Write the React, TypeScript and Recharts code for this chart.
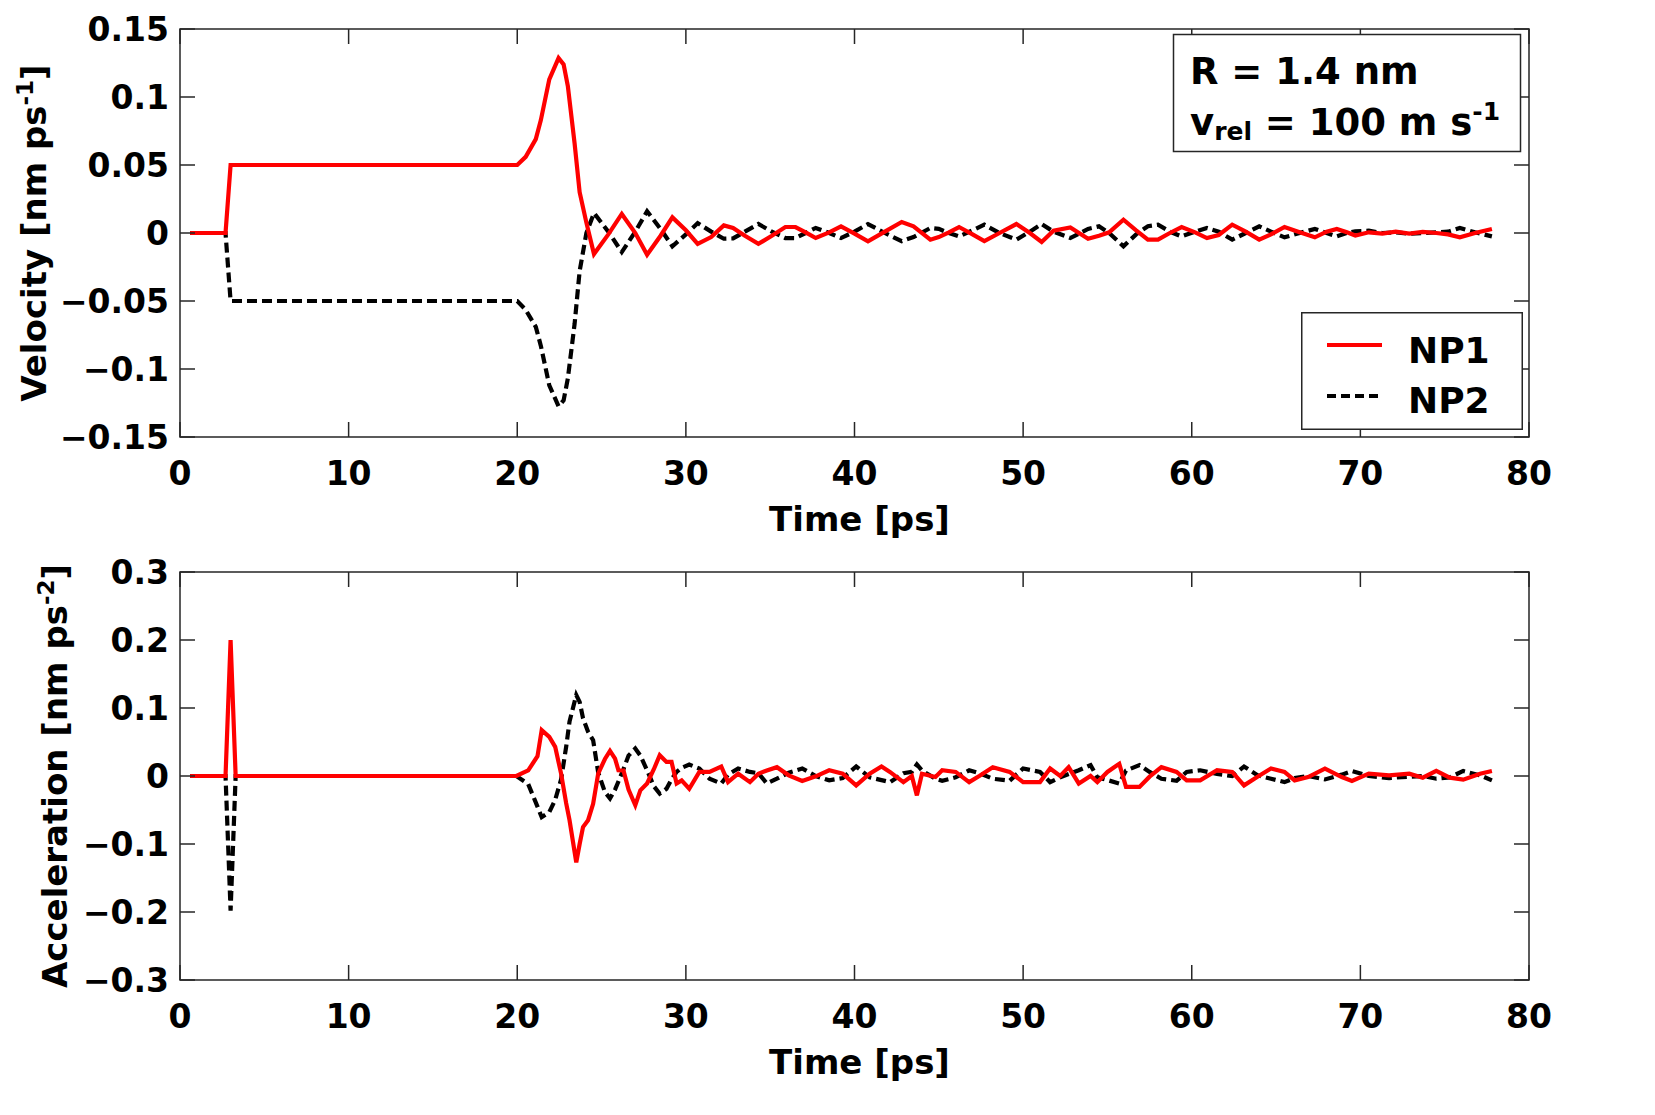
import React from 'react';
import { LineChart, Line, XAxis, YAxis, ReferenceArea, Legend, Label } from 'recharts';

const timeTicks = [0, 10, 20, 30, 40, 50, 60, 70, 80];
const velTicks = [-0.15, -0.1, -0.05, 0, 0.05, 0.1, 0.15];
const accTicks = [-0.3, -0.2, -0.1, 0, 0.1, 0.2, 0.3];

// velocity panel [ps] / [nm ps^-1]
const velTime = [
  0.6, 2.7, 3.0, 20.0, 20.5, 21.1, 21.4, 21.9, 22.45, 22.75,
  23.0, 23.4, 23.7, 24.1, 24.55, 25.4, 26.2, 27.0, 27.7, 28.5,
  29.2, 30.0, 30.7, 31.5, 32.25, 32.8, 33.5, 34.3, 35.1, 35.9,
  36.5, 37.1, 37.7, 38.5, 39.2, 40.0, 40.8, 41.8, 42.8, 43.5,
  44.5, 45.0, 45.6, 46.2, 47.0, 47.7, 48.6, 49.6, 50.4, 51.1,
  51.8, 52.8, 53.85, 54.5, 55.1, 55.95, 56.7, 57.4, 58.0, 58.7,
  59.4, 60.2, 60.9, 61.6, 62.4, 63.2, 64.0, 64.7, 65.5, 66.4,
  67.3, 68.0, 68.6, 69.2, 69.7, 70.5, 71.3, 72.1, 72.9, 73.7,
  74.5, 75.2, 75.9, 76.8, 77.8,
];
const velNP1 = [
  0, 0, 0.05, 0.05, 0.056, 0.069, 0.083, 0.113, 0.1286, 0.124,
  0.108, 0.066, 0.03, 0.0076, -0.0155, -0.001, 0.014, 0.0, -0.016, -0.002,
  0.0115, 0.002, -0.008, -0.003, 0.0056, 0.0037, -0.002, -0.008, -0.002, 0.0044,
  0.0044, 0.0005, -0.0037, 0.0005, 0.0049, -0.0005, -0.0062, 0.001, 0.0081, 0.0049,
  -0.0049, -0.003, 0.0005, 0.0044, -0.001, -0.006, 0.0, 0.0066, 0.0, -0.0066,
  0.0017, 0.0041, -0.0042, -0.002, 0.0005, 0.0098, 0.002, -0.0049, -0.0049, 0.0,
  0.0044, 0.0005, -0.0037, -0.0015, 0.0061, 0.001, -0.0049, -0.001, 0.0044, 0.0005,
  -0.0032, 0.001, 0.003, 0.0005, -0.0018, 0.0005, -0.0005, 0.001, -0.0005, 0.0008,
  0.0, -0.001, -0.0032, 0.0, 0.003,
];
const velNP2 = [
  0, 0, -0.05, -0.05, -0.0565, -0.069, -0.083, -0.112, -0.1274, -0.123,
  -0.107, -0.067, -0.028, 0.0, 0.0147, 0.001, -0.014, 0.001, 0.016, 0.003,
  -0.0098, -0.001, 0.0073, 0.001, -0.0042, -0.004, 0.001, 0.0066, 0.001, -0.0037,
  -0.0037, 0.0, 0.0037, 0.0, -0.0037, 0.001, 0.0066, 0.0, -0.006, -0.003,
  0.0037, 0.003, 0.0, -0.0025, 0.002, 0.0061, 0.0, -0.0049, 0.001, 0.0066,
  0.001, -0.0037, 0.003, 0.0049, 0.0, -0.0098, -0.001, 0.005, 0.0061, 0.001,
  -0.0025, 0.001, 0.0037, 0.001, -0.0049, 0.0, 0.0049, 0.001, -0.0032, 0.0,
  0.003, 0.0, -0.0025, 0.0, 0.0012, 0.0017, 0.0, 0.0005, -0.0005, 0.0,
  0.0005, 0.001, 0.0037, 0.0005, -0.0025,
];

// acceleration panel [ps] / [nm ps^-2]
const accTime = [
  0.6, 2.7, 3.0, 3.3, 19.95, 20.65, 21.2, 21.45, 21.9, 22.25,
  22.6, 22.9, 23.1, 23.5, 23.7, 23.9, 24.2, 24.5, 24.8, 25.2,
  25.5, 25.8, 26.0, 26.3, 26.6, 27.0, 27.3, 27.7, 28.1, 28.45,
  28.85, 29.15, 29.45, 29.75, 30.2, 30.8, 31.4, 32.1, 32.5, 33.1,
  33.8, 34.3, 34.8, 35.4, 36.1, 36.9, 37.7, 38.5, 39.3, 40.1,
  40.9, 41.6, 42.1, 42.9, 43.4, 43.7, 44.0, 44.8, 45.2, 46.0,
  46.8, 47.4, 48.2, 49.2, 50.0, 51.0, 51.6, 52.2, 52.7, 53.3,
  54.0, 54.4, 55.0, 55.7, 56.1, 56.9, 57.5, 58.2, 59.1, 59.7,
  60.5, 61.5, 62.4, 63.1, 63.9, 64.7, 65.5, 66.1, 66.9, 67.9,
  68.9, 69.5, 70.5, 71.7, 72.9, 73.7, 74.5, 75.3, 76.1, 77.1,
  77.8,
];
const accNP1 = [
  0, 0, 0.2, 0, 0, 0.0084, 0.029, 0.0674, 0.0575, 0.0428,
  0.0035, -0.04, -0.065, -0.127, -0.1, -0.075, -0.065, -0.041, 0.0035, 0.025,
  0.037, 0.0256, 0.0084, 0.0081, -0.02, -0.043, -0.021, -0.011, 0.01, 0.0305,
  0.0207, 0.0207, -0.011, -0.0064, -0.0187, 0.006, 0.006, 0.014, -0.009, 0.0034,
  -0.009, 0.0034, 0.008, 0.013, 0.001, -0.0074, -0.0005, 0.0084, 0.0034, -0.0138,
  0.0034, 0.014, 0.006, -0.009, 0.0, -0.0285, 0.0034, -0.0015, 0.0084, 0.006,
  -0.009, 0.0, 0.013, 0.006, -0.009, -0.009, 0.011, 0.0, 0.013, -0.011,
  0.0, -0.009, 0.006, 0.018, -0.016, -0.016, -0.001, 0.013, 0.006, -0.0064,
  -0.0064, 0.0084, 0.006, -0.0138, -0.001, 0.011, 0.006, -0.0064, -0.0015, 0.011,
  -0.0015, -0.0074, 0.0034, 0.001, 0.0034, -0.0025, 0.0074, -0.0025, -0.0054, 0.0034,
  0.0074,
];
const accNP2 = [
  0, 0, -0.198, 0, 0, -0.012, -0.045, -0.0605, -0.053, -0.035,
  -0.005, 0.0428, 0.08, 0.119, 0.109, 0.085, 0.065, 0.0527, 0.005, -0.0236,
  -0.033, -0.02, -0.008, 0.01, 0.03, 0.0404, 0.03, 0.0084, -0.015, -0.026,
  -0.0187, -0.005, 0.006, 0.012, 0.0168, 0.011, -0.004, -0.011, 0.002, 0.011,
  0.006, 0.004, -0.011, -0.004, 0.005, 0.011, 0.0, -0.0064, -0.003, 0.014,
  -0.002, -0.006, -0.009, 0.004, 0.006, 0.017, 0.008, -0.004, -0.007, -0.002,
  0.0084, 0.004, -0.004, -0.007, 0.011, 0.006, -0.009, -0.002, 0.003, 0.0084,
  0.016, -0.002, -0.006, -0.011, 0.008, 0.016, 0.006, -0.004, -0.007, 0.006,
  0.0084, 0.003, 0.0, 0.014, 0.001, -0.004, -0.009, -0.003, 0.0, -0.005,
  0.002, 0.0074, 0.0, -0.003, -0.001, 0.0, -0.004, -0.002, 0.0074, 0.001,
  -0.0064,
];

const velData = velTime.map((t, i) => ({ t, np1: velNP1[i], np2: velNP2[i] }));
const accData = accTime.map((t, i) => ({ t, np1: accNP1[i], np2: accNP2[i] }));

const FONT = '"DejaVu Sans", Verdana, sans-serif';
const FRAME = '#262626';
const CHART_W = 1655;
const CHART_H = 545;
const PLOT_LEFT = 180;
const PLOT_RIGHT = 1529;
const PLOT_TOP = 29;
const PLOT_BOTTOM = 437;
const TICK_LEN = 15;
const TICK_FONT = 33;
const LABEL_FONT = 34;
const LINE_W = 4.2;
const DASH = '10 5';

const fmt = (v: number) => (v < 0 ? '\u2212' + String(Math.abs(v)) : String(v));

function XTick(props: any) {
  const { x, payload } = props;
  return (
    <g>
      <line x1={x} x2={x} y1={PLOT_BOTTOM} y2={PLOT_BOTTOM - TICK_LEN} stroke={FRAME} strokeWidth={1.5} />
      <line x1={x} x2={x} y1={PLOT_TOP} y2={PLOT_TOP + TICK_LEN} stroke={FRAME} strokeWidth={1.5} />
      <text x={x} y={PLOT_BOTTOM + 48} textAnchor="middle" fontFamily={FONT} fontWeight="bold" fontSize={TICK_FONT} fill="#000">
        {fmt(payload.value)}
      </text>
    </g>
  );
}

function YTick(props: any) {
  const { y, payload } = props;
  return (
    <g>
      <line x1={PLOT_LEFT} x2={PLOT_LEFT + TICK_LEN} y1={y} y2={y} stroke={FRAME} strokeWidth={1.5} />
      <line x1={PLOT_RIGHT - TICK_LEN} x2={PLOT_RIGHT} y1={y} y2={y} stroke={FRAME} strokeWidth={1.5} />
      <text x={PLOT_LEFT - 11} y={y} dy={12} textAnchor="end" fontFamily={FONT} fontWeight="bold" fontSize={TICK_FONT} fill="#000">
        {fmt(payload.value)}
      </text>
    </g>
  );
}

function YTitle(props: any) {
  const { cx, main, sup } = props;
  const cy = (PLOT_TOP + PLOT_BOTTOM) / 2;
  return (
    <text
      x={cx}
      y={cy}
      dy={12}
      transform={`rotate(-90, ${cx}, ${cy})`}
      textAnchor="middle"
      fontFamily={FONT}
      fontWeight="bold"
      fontSize={LABEL_FONT}
      fill="#000"
    >
      {main}
      <tspan dy={-13} fontSize={23}>{sup}</tspan>
      <tspan dy={13}>]</tspan>
    </text>
  );
}

function XTitle(props: any) {
  const cx = (PLOT_LEFT + PLOT_RIGHT) / 2 + 5;
  return (
    <text x={cx} y={PLOT_BOTTOM + 94} textAnchor="middle" fontFamily={FONT} fontWeight="bold" fontSize={LABEL_FONT} fill="#000">
      Time [ps]
    </text>
  );
}

function renderLegend() {
  return (
    <svg width={222} height={118} style={{ display: 'block' }}>
      <rect x={0.75} y={0.75} width={220.5} height={116.5} fill="#fff" stroke={FRAME} strokeWidth={1.5} />
      <line x1={26} x2={81} y1={33} y2={33} stroke="#ff0000" strokeWidth={LINE_W} />
      <text x={107} y={51} fontFamily={FONT} fontWeight="bold" fontSize={36} fill="#000">NP1</text>
      <line x1={26} x2={81} y1={84} y2={84} stroke="#000" strokeWidth={LINE_W} strokeDasharray="9 5" />
      <text x={107} y={101} fontFamily={FONT} fontWeight="bold" fontSize={36} fill="#000">NP2</text>
    </svg>
  );
}

function Panel({ data, yTicks, title, sup, titleX, legend }: any) {
  const lo = yTicks[0];
  const hi = yTicks[yTicks.length - 1];
  return (
    <LineChart
      width={CHART_W}
      height={CHART_H}
      data={data}
      margin={{ top: PLOT_TOP, right: CHART_W - PLOT_RIGHT, bottom: 8, left: 0 }}
    >
      <XAxis
        dataKey="t"
        type="number"
        domain={[0, 80]}
        ticks={timeTicks}
        interval={0}
        height={100}
        axisLine={false}
        tickLine={false}
        tickSize={0}
        tick={<XTick />}
      >
        <Label content={<XTitle />} />
      </XAxis>
      <YAxis
        type="number"
        domain={[lo, hi]}
        ticks={yTicks}
        interval={0}
        width={PLOT_LEFT}
        axisLine={false}
        tickLine={false}
        tickSize={0}
        tick={<YTick />}
      >
        <Label content={<YTitle cx={titleX} main={title} sup={sup} />} />
      </YAxis>
      <ReferenceArea x1={0} x2={80} y1={lo} y2={hi} fill="none" stroke={FRAME} strokeWidth={1.5} />
      <Line
        dataKey="np2"
        name="NP2"
        type="linear"
        stroke="#000"
        strokeWidth={LINE_W}
        strokeDasharray={DASH}
        dot={false}
        isAnimationActive={false}
      />
      <Line
        dataKey="np1"
        name="NP1"
        type="linear"
        stroke="#ff0000"
        strokeWidth={LINE_W}
        dot={false}
        isAnimationActive={false}
      />
      {legend && (
        <Legend
          layout="vertical"
          align="center"
          verticalAlign="middle"
          content={renderLegend}
          wrapperStyle={{ left: 1301, top: 312, width: 222, height: 118 }}
        />
      )}
    </LineChart>
  );
}

export default function App() {
  return (
    <div style={{ position: 'absolute', left: 0, top: 0, width: 1655, height: 1115, background: '#fff' }}>
      <div style={{ position: 'absolute', left: 0, top: 0 }}>
        <Panel data={velData} yTicks={velTicks} title="Velocity [nm ps" sup="-1" titleX={34} legend />
      </div>
      <div style={{ position: 'absolute', left: 0, top: 543 }}>
        <Panel data={accData} yTicks={accTicks} title="Acceleration [nm ps" sup="-2" titleX={55} legend={false} />
      </div>
      <svg width={350} height={120} style={{ position: 'absolute', left: 1172, top: 33 }}>
        <rect x={1.5} y={1.5} width={347} height={117} fill="#fff" stroke={FRAME} strokeWidth={1.5} />
        <text x={18} y={51} fontFamily={FONT} fontWeight="bold" fontSize={37} fill="#000">R = 1.4 nm</text>
        <text x={18} y={102} fontFamily={FONT} fontWeight="bold" fontSize={37} fill="#000">
          v<tspan fontSize={25} dy={5}>rel</tspan>
          <tspan dy={-5}>{' = 100 m s'}</tspan>
          <tspan fontSize={25} dy={-15}>-1</tspan>
        </text>
      </svg>
    </div>
  );
}
